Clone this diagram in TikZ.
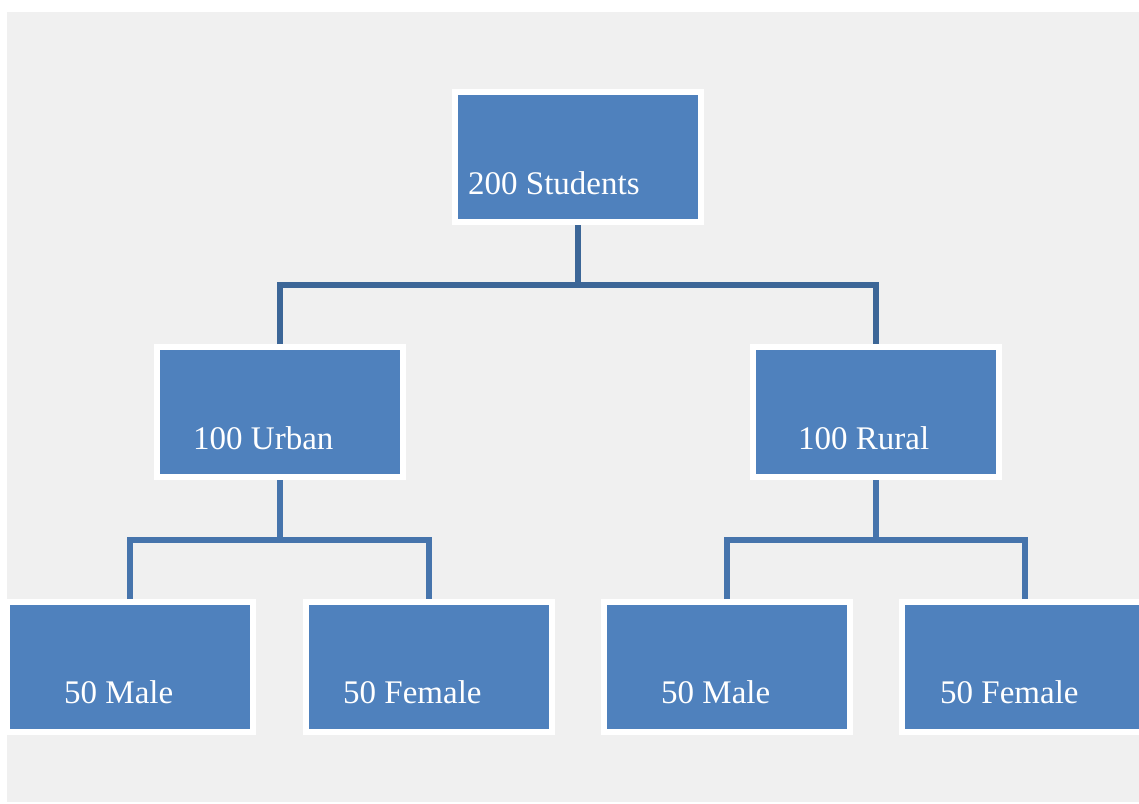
\documentclass[tikz,border=0pt]{standalone}
\usepackage{fontspec}
\setmainfont{Liberation Serif}
\definecolor{boxblue}{HTML}{4F81BD}
\definecolor{linkdark}{HTML}{3C6697}
\definecolor{linkmid}{HTML}{4674AC}
\definecolor{panel}{HTML}{F0F0F0}
\begin{document}
\begin{tikzpicture}[x=1pt,y=-1pt,
  unit/.style={draw=white,line width=6pt,fill=boxblue,minimum width=246pt,
    minimum height=130pt,inner sep=0pt},
  lbl/.style={anchor=base west,text=white,inner sep=0pt,
    font=\fontsize{33}{40}\selectfont},
  link/.style={line width=6pt,line join=miter}]
% page and grey panel
\fill[white] (0,0) rectangle (1139,803);
\fill[panel] (7,12) rectangle (1139,802);
\useasboundingbox (0,0) rectangle (1139,803);

% boxes
\node[unit] (all)   at (578,157) {};
\node[unit] (urban) at (280,412) {};
\node[unit] (rural) at (876,412) {};
\node[unit] (um)    at (130,667) {};
\node[unit] (uf)    at (429,667) {};
\node[unit] (rm)    at (727,667) {};
\node[unit] (rf)    at (1025,667) {};

% labels
\node[lbl] (tall)   at ([shift={(16,105)}]all.north west)   {200 Students};
\node[lbl] (turban) at ([shift={(39,105)}]urban.north west) {100 Urban};
\node[lbl] (trural) at ([shift={(48,105)}]rural.north west) {100 Rural};
\node[lbl] (tum)    at ([shift={(60,104)}]um.north west)    {50 Male};
\node[lbl] (tuf)    at ([shift={(40,104)}]uf.north west)    {50 Female};
\node[lbl] (trm)    at ([shift={(60,104)}]rm.north west)    {50 Male};
\node[lbl] (trf)    at ([shift={(41,104)}]rf.north west)    {50 Female};

% connectors
\coordinate (j0) at (578,285);
\coordinate (j1) at (280,540);
\coordinate (j2) at (876,540);
\draw[link,linkdark] (all.south) -- (j0);
\draw[link,linkdark] (urban.north) |- (j0) -| (rural.north);
\draw[link,linkmid] (urban.south) -- (j1);
\draw[link,linkmid] (um.north) |- (j1) -| (uf.north);
\draw[link,linkmid] (rural.south) -- (j2);
\draw[link,linkmid] (rm.north) |- (j2) -| (rf.north);
\end{tikzpicture}
\end{document}
